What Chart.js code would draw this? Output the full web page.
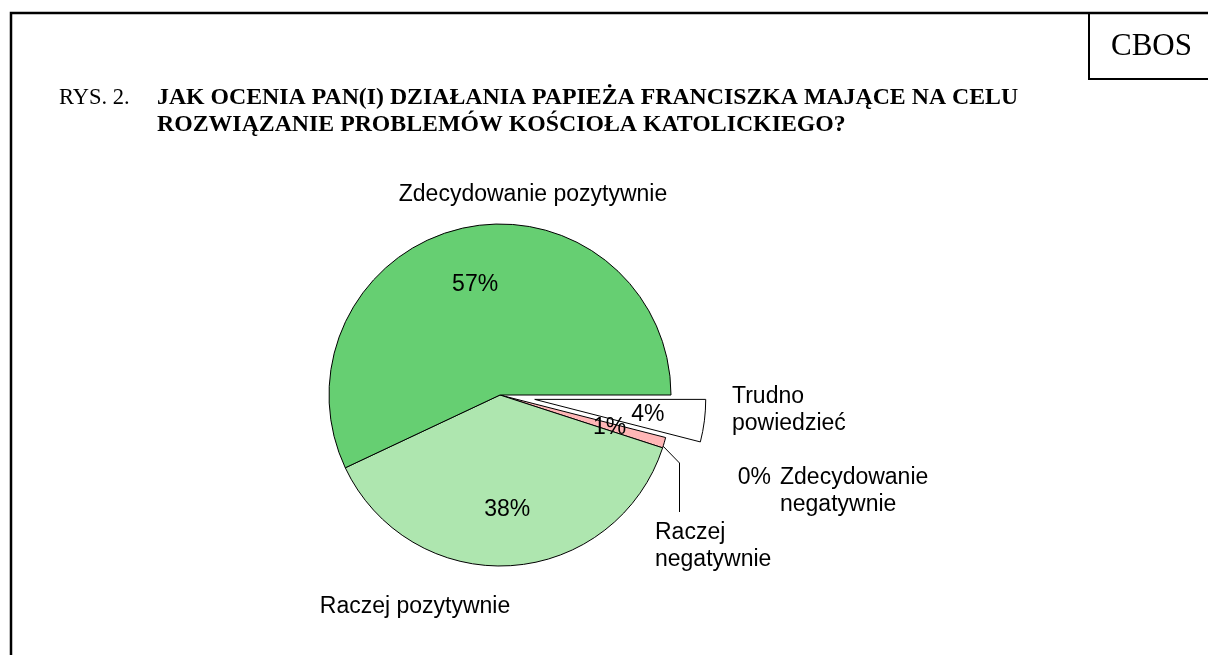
<!DOCTYPE html>
<html>
<head>
<meta charset="utf-8">
<script src="https://cdn.jsdelivr.net/npm/chart.js@4/dist/chart.umd.min.js"></script>
<style>
  html, body { margin: 0; padding: 0; background: #fff; }
  #wykres { display: block; }
</style>
</head>
<body>
<canvas id="wykres" width="1208" height="655"></canvas>
<script>
// dane z rysunku (kolejnosc jak w odpowiedziach ankiety)
const kategorie = ["Zdecydowanie pozytywnie", "Raczej pozytywnie", "Raczej negatywnie", "Zdecydowanie negatywnie", "Trudno powiedzieć"];
const wartosci = [57, 38, 1, 0, 4];
const kolory = ["#66cf72", "#aee6af", "#ffb6b6", "#ffffff", "#ffffff"];
const wysuniecie = [0, 0, 0, 0, 35];

const tytulNumer = "RYS. 2.";
const tytulLinie = ["JAK OCENIA PAN(I) DZIAŁANIA PAPIEŻA FRANCISZKA MAJĄCE NA CELU", "ROZWIĄZANIE PROBLEMÓW KOŚCIOŁA KATOLICKIEGO?"];

// polozenie opisow kategorii (x, linia bazowa, wyrownanie)
const opisy = [
  { linie: ["Zdecydowanie pozytywnie"], x: 533, y: 201, align: "center" },
  { linie: ["Raczej pozytywnie"], x: 415, y: 613, align: "center" },
  { linie: ["Raczej", "negatywnie"], x: 655, y: 539, align: "left" },
  { linie: ["Zdecydowanie", "negatywnie"], x: 780, y: 484, align: "left", procent: 771 },
  { linie: ["Trudno", "powiedzieć"], x: 732, y: 403, align: "left" }
];

// Chart.js rysuje zgodnie z zegarem, wiec odwracamy kolejnosc
const kolejnosc = [4, 3, 2, 1, 0];

const FONT_ETYKIET = '23px "Liberation Sans", Arial, sans-serif';

const wysunPlaster = {
  id: "wysunPlaster",
  afterDatasetUpdate(chart, args) {
    const meta = chart.getDatasetMeta(args.index);
    meta.data.forEach((luk, i) => {
      const o = wysuniecie[kolejnosc[i]];
      if (!o) return;
      const srodek = (luk.startAngle + luk.endAngle) / 2;
      luk.x += Math.cos(srodek) * o;
      luk.y += Math.sin(srodek) * o;
    });
  }
};

const ramkaIOpisy = {
  id: "ramkaIOpisy",
  afterDraw(chart) {
    const ctx = chart.ctx;
    ctx.save();
    // ramka
    ctx.strokeStyle = "#000";
    ctx.lineWidth = 2.5;
    ctx.beginPath();
    ctx.moveTo(11, 655);
    ctx.lineTo(11, 13);
    ctx.lineTo(1208, 13);
    ctx.stroke();
    ctx.lineWidth = 2;
    ctx.beginPath();
    ctx.moveTo(1089, 13);
    ctx.lineTo(1089, 79);
    ctx.lineTo(1208, 79);
    ctx.stroke();

    ctx.fillStyle = "#000";
    ctx.textBaseline = "alphabetic";
    ctx.textAlign = "left";
    ctx.font = '31px "Liberation Serif", "Times New Roman", serif';
    ctx.fillText("CBOS", 1111, 55);

    ctx.font = '22.5px "Liberation Serif", "Times New Roman", serif';
    ctx.fillText(tytulNumer, 59, 104);
    ctx.font = 'bold 23.8px "Liberation Serif", "Times New Roman", serif';
    ctx.fillText(tytulLinie[0], 157, 104);
    ctx.fillText(tytulLinie[1], 157, 131);

    // procenty wewnatrz plastrow
    const meta = chart.getDatasetMeta(0);
    ctx.font = FONT_ETYKIET;
    ctx.textAlign = "center";
    ctx.textBaseline = "middle";
    meta.data.forEach((luk, i) => {
      const k = kolejnosc[i];
      if (!wartosci[k]) return;
      const srodek = (luk.startAngle + luk.endAngle) / 2;
      const r = luk.outerRadius * 0.667;
      ctx.fillText(wartosci[k] + "%", luk.x + Math.cos(srodek) * r, luk.y + Math.sin(srodek) * r + 1);
    });

    // linia odniesienia dla "Raczej negatywnie"
    const lukRN = meta.data[kolejnosc.indexOf(2)];
    const katRN = lukRN.endAngle - 0.01;
    ctx.strokeStyle = "#000";
    ctx.lineWidth = 1;
    ctx.beginPath();
    ctx.moveTo(lukRN.x + Math.cos(katRN) * lukRN.outerRadius, lukRN.y + Math.sin(katRN) * lukRN.outerRadius);
    ctx.lineTo(679.5, 463);
    ctx.lineTo(679.5, 512);
    ctx.stroke();

    // opisy kategorii
    ctx.textBaseline = "alphabetic";
    opisy.forEach((op, k) => {
      ctx.textAlign = op.align;
      op.linie.forEach((t, j) => ctx.fillText(t, op.x, op.y + j * 27));
      if (op.procent) {
        ctx.textAlign = "right";
        ctx.fillText(wartosci[k] + "%", op.procent, op.y);
      }
    });
    ctx.restore();
  }
};

new Chart(document.getElementById("wykres"), {
  type: "pie",
  data: {
    labels: kolejnosc.map(k => kategorie[k]),
    datasets: [{
      data: kolejnosc.map(k => wartosci[k]),
      backgroundColor: kolejnosc.map(k => kolory[k]),
      borderColor: "#000",
      borderWidth: 1,
      radius: 171
    }]
  },
  options: {
    responsive: false,
    animation: false,
    events: [],
    rotation: 90,
    layout: { padding: { left: 100, right: 308, top: 180, bottom: 45 } },
    plugins: {
      legend: { display: false },
      tooltip: { enabled: false }
    }
  },
  plugins: [wysunPlaster, ramkaIOpisy]
});
</script>
</body>
</html>
